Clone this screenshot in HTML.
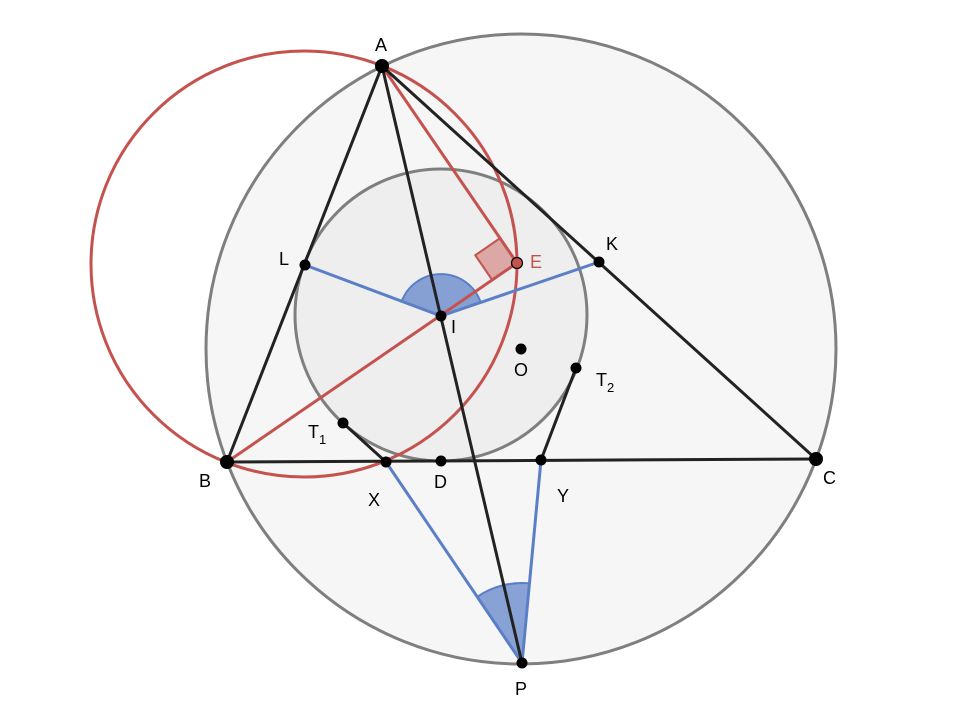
<!DOCTYPE html>
<html><head><meta charset="utf-8"><style>
html,body{margin:0;padding:0;background:#fff;}
svg{display:block}
text{font-family:"Liberation Sans",sans-serif;font-size:18px;fill:#000}
</style></head><body>
<svg width="958" height="710" viewBox="0 0 958 710" xmlns="http://www.w3.org/2000/svg">
<circle cx="521" cy="349" r="315" fill="#f6f6f6" stroke="#7f7f7f" stroke-width="3"/>
<circle cx="441" cy="315" r="146" fill="#eeeeee" stroke="#7f7f7f" stroke-width="3"/>
<circle cx="304" cy="264" r="213" fill="none" stroke="#c4524e" stroke-width="3"/>
<path d="M441,316 L401.7,301.3 A42,42 0 0 1 480.7,302.4 Z" fill="#5b7fc7" fill-opacity="0.7" stroke="#5b7fc7" stroke-width="2"/>
<path d="M522,663 L477.2,596.8 A80,80 0 0 1 529.4,583.3 Z" fill="#5b7fc7" fill-opacity="0.7" stroke="#5b7fc7" stroke-width="2"/>
<path d="M517,263 L500,238.2 L475.3,255.2 L492.2,280 Z" fill="#c4524e" fill-opacity="0.45" stroke="#c4524e" stroke-width="2"/>
<g stroke="#c4524e" stroke-width="3">
<line x1="382" y1="66" x2="517" y2="263"/>
<line x1="227" y1="462" x2="517" y2="263"/>
</g>
<g stroke="#5b7fc7" stroke-width="3">
<line x1="305" y1="265" x2="441" y2="316"/>
<line x1="441" y1="316" x2="599" y2="262"/>
<line x1="386" y1="462" x2="522" y2="663"/>
<line x1="541" y1="460" x2="522" y2="663"/>
</g>
<g stroke="#222" stroke-width="3">
<line x1="382" y1="66" x2="227" y2="462"/>
<line x1="382" y1="66" x2="816" y2="459"/>
<line x1="227" y1="462" x2="816" y2="459"/>
<line x1="382" y1="66" x2="522" y2="663"/>
<line x1="343" y1="423" x2="386" y2="462"/>
<line x1="576" y1="368" x2="541" y2="460"/>
</g>
<g fill="#000">
<circle cx="382" cy="66" r="7"/>
<circle cx="227" cy="462" r="7"/>
<circle cx="816" cy="459" r="7"/>
<circle cx="305" cy="265" r="5.5"/>
<circle cx="599" cy="262" r="5.5"/>
<circle cx="441" cy="316" r="5.5"/>
<circle cx="521" cy="349" r="5.5"/>
<circle cx="343" cy="423" r="5.5"/>
<circle cx="576" cy="368" r="5.5"/>
<circle cx="386" cy="462" r="5.5"/>
<circle cx="441" cy="461" r="5.5"/>
<circle cx="541" cy="460" r="5.5"/>
<circle cx="522" cy="663" r="5.5"/>
</g>
<circle cx="517" cy="263" r="5.5" fill="#c4524e" stroke="#000" stroke-width="1.2"/>
<text x="375" y="51">A</text>
<text x="279" y="265">L</text>
<text x="606" y="250">K</text>
<text x="530" y="268" style="fill:#c4524e">E</text>
<text x="451" y="333">I</text>
<text x="514" y="376">O</text>
<text x="308" y="438">T<tspan font-size="13" dy="6">1</tspan></text>
<text x="596" y="386">T<tspan font-size="13" dy="6">2</tspan></text>
<text x="199" y="487">B</text>
<text x="368" y="506">X</text>
<text x="434" y="488">D</text>
<text x="557" y="502">Y</text>
<text x="823" y="484">C</text>
<text x="515" y="695">P</text>
</svg>
</body></html>
